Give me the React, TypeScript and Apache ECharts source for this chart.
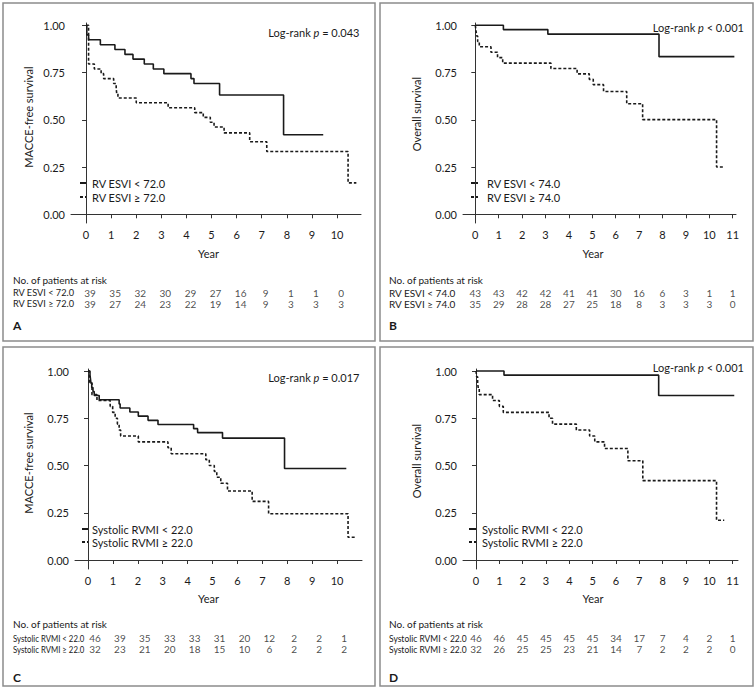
import React, { useEffect, useRef } from "react";
import * as echarts from "echarts";

// ---------- DATA ----------
// Panel A: MACCE-free survival by RV ESVI (72.0)
const timesA1 = [0, 0.03, 0.1, 0.57, 1.15, 1.55, 1.87, 2.32, 2.68, 3.1, 4.18, 4.3, 5.32, 7.87, 9.45];
const survA1 = [1, 0.949, 0.923, 0.897, 0.872, 0.846, 0.821, 0.795, 0.769, 0.744, 0.718, 0.692, 0.631, 0.421, 0.421];
const timesA2 = [0, 0.1, 0.33, 0.6, 0.7, 1.1, 1.2, 1.22, 1.27, 2.0, 3.27, 4.33, 4.67, 4.95, 5.1, 5.5, 6.52, 7.2, 10.44, 10.77];
const survA2 = [1, 0.795, 0.769, 0.744, 0.718, 0.692, 0.667, 0.641, 0.615, 0.59, 0.564, 0.538, 0.513, 0.487, 0.462, 0.431, 0.384, 0.332, 0.166, 0.166];

// Panel B: Overall survival by RV ESVI (74.0)
const timesB1 = [0, 1.2, 3.1, 7.85, 11.07];
const survB1 = [1, 0.977, 0.953, 0.834, 0.834];
const timesB2 = [0, 0.03, 0.06, 0.1, 0.17, 0.67, 0.95, 1.17, 3.23, 4.35, 4.87, 5.04, 5.48, 6.47, 7.15, 10.31, 10.64];
const survB2 = [1, 0.971, 0.943, 0.914, 0.886, 0.857, 0.829, 0.8, 0.771, 0.743, 0.714, 0.686, 0.65, 0.585, 0.501, 0.25, 0.25];

// Panel C: MACCE-free survival by Systolic RVMI (22.0)
const timesC1 = [0, 0.08, 0.1, 0.12, 0.15, 0.2, 0.25, 0.45, 1.25, 1.29, 1.68, 2.02, 2.41, 2.81, 4.24, 4.4, 5.4, 7.89, 10.37];
const survC1 = [1, 0.978, 0.957, 0.935, 0.913, 0.891, 0.87, 0.848, 0.826, 0.804, 0.783, 0.761, 0.739, 0.717, 0.695, 0.674, 0.645, 0.484, 0.484];
const timesC2 = [0, 0.05, 0.16, 0.36, 0.89, 0.99, 1.09, 1.18, 1.25, 1.31, 2.02, 3.21, 3.34, 4.73, 4.87, 5.07, 5.17, 5.33, 5.6, 6.59, 7.25, 10.44, 10.77];
const survC2 = [1, 0.938, 0.875, 0.844, 0.813, 0.781, 0.75, 0.719, 0.688, 0.656, 0.625, 0.594, 0.5625, 0.531, 0.5, 0.469, 0.438, 0.406, 0.365, 0.31, 0.245, 0.12, 0.12];

// Panel D: Overall survival by Systolic RVMI (22.0)
const timesD1 = [0, 1.2, 7.83, 11.07];
const survD1 = [1, 0.978, 0.87, 0.87];
const timesD2 = [0, 0.03, 0.07, 0.1, 0.14, 0.71, 1.0, 1.17, 3.13, 3.28, 4.3, 4.87, 5.09, 5.51, 6.51, 7.15, 10.31, 10.64];
const survD2 = [1, 0.969, 0.938, 0.906, 0.875, 0.844, 0.813, 0.781, 0.75, 0.719, 0.688, 0.656, 0.625, 0.59, 0.525, 0.42, 0.21, 0.21];

// Risk tables
const riskYearsAC = [0, 1, 2, 3, 4, 5, 6, 7, 8, 9, 10];
const riskYearsBD = [0, 1, 2, 3, 4, 5, 6, 7, 8, 9, 10, 11];
const riskA1 = [39, 35, 32, 30, 29, 27, 16, 9, 1, 1, 0];
const riskA2 = [39, 27, 24, 23, 22, 19, 14, 9, 3, 3, 3];
const riskB1 = [43, 43, 42, 42, 41, 41, 30, 16, 6, 3, 1, 1];
const riskB2 = [35, 29, 28, 28, 27, 25, 18, 8, 3, 3, 3, 0];
const riskC1 = [46, 39, 35, 33, 33, 31, 20, 12, 2, 2, 1];
const riskC2 = [32, 23, 21, 20, 18, 15, 10, 6, 2, 2, 2];
const riskD1 = [46, 46, 45, 45, 45, 45, 34, 17, 7, 4, 2, 1];
const riskD2 = [32, 26, 25, 25, 23, 21, 14, 7, 2, 2, 2, 0];

// Labels
const groupLabelsA = ["RV ESVI < 72.0", "RV ESVI \u2265 72.0"];
const groupLabelsB = ["RV ESVI < 74.0", "RV ESVI \u2265 74.0"];
const groupLabelsC = ["Systolic RVMI < 22.0", "Systolic RVMI \u2265 22.0"];
const groupLabelsD = ["Systolic RVMI < 22.0", "Systolic RVMI \u2265 22.0"];
const yTitles = ["MACCE-free survival", "Overall survival", "MACCE-free survival", "Overall survival"];
const pTexts = ["= 0.043", "< 0.001", "= 0.017", "< 0.001"];
const panelLetters = ["A", "B", "C", "D"];
const yTicks = [0, 0.25, 0.5, 0.75, 1];

// ---------- LAYOUT ----------
const FONT = "Lato";
const INK = "#1a1a1a";
const TABLE_FS = 10;

type Panel = {
  box: [number, number, number, number];
  grid: { left: number; top: number; width: number; height: number };
  xMin: number; xMax: number; yMin: number; yMax: number;
  xTicks: number[];
  s1: [number[], number[]]; s2: [number[], number[]];
  risk1: number[]; risk2: number[]; riskYears: number[];
  labels: string[]; yTitle: string; p: string; letter: string;
  pPos: [number, number]; yTitlePos: [number, number]; yearPos: [number, number];
  legend: { x1: number; x2: number; tx: number; y1: number; y2: number };
  tableX: number; headerY: number; riskTop: number; letterY: number;
  riskShift: number; labelScale: number;
};

const panels: Panel[] = [
  {
    box: [3, 3, 372, 338],
    grid: { left: 71, top: 23, width: 290, height: 200 },
    xMin: -0.6, xMax: 10.955, yMin: -0.046, yMax: 1.012,
    xTicks: riskYearsAC,
    s1: [timesA1, survA1], s2: [timesA2, survA2],
    risk1: riskA1, risk2: riskA2, riskYears: riskYearsAC,
    labels: groupLabelsA, yTitle: yTitles[0], p: pTexts[0], letter: panelLetters[0],
    pPos: [359.5, 32], yTitlePos: [28, 117], yearPos: [208.5, 253],
    legend: { x1: 80, x2: 87, tx: 92, y1: 183, y2: 197 },
    tableX: 13, headerY: 279.5, riskTop: 287, letterY: 325,
    riskShift: 4, labelScale: 0.92,
  },
  {
    box: [380, 3, 373, 338],
    grid: { left: 463, top: 23, width: 273, height: 200 },
    xMin: -0.526, xMax: 11.14, yMin: -0.046, yMax: 1.012,
    xTicks: riskYearsBD,
    s1: [timesB1, survB1], s2: [timesB2, survB2],
    risk1: riskB1, risk2: riskB2, riskYears: riskYearsBD,
    labels: groupLabelsB, yTitle: yTitles[1], p: pTexts[1], letter: panelLetters[1],
    pPos: [744, 27], yTitlePos: [416, 114], yearPos: [593, 253],
    legend: { x1: 471, x2: 478, tx: 487, y1: 183, y2: 197 },
    tableX: 389, headerY: 279.5, riskTop: 287, letterY: 325,
    riskShift: 0, labelScale: 1,
  },
  {
    box: [3, 347, 372, 339],
    grid: { left: 75, top: 369, width: 287, height: 200 },
    xMin: -0.522, xMax: 11.0, yMin: -0.0476, yMax: 1.0106,
    xTicks: riskYearsAC,
    s1: [timesC1, survC1], s2: [timesC2, survC2],
    risk1: riskC1, risk2: riskC2, riskYears: riskYearsAC,
    labels: groupLabelsC, yTitle: yTitles[2], p: pTexts[2], letter: panelLetters[2],
    pPos: [359.5, 377], yTitlePos: [28, 463], yearPos: [208.5, 598],
    legend: { x1: 82, x2: 89, tx: 92, y1: 529, y2: 542 },
    tableX: 13, headerY: 623.5, riskTop: 632.5, letterY: 677,
    riskShift: 7, labelScale: 0.78,
  },
  {
    box: [380, 347, 373, 339],
    grid: { left: 463, top: 369, width: 275, height: 200 },
    xMin: -0.557, xMax: 11.23, yMin: -0.0476, yMax: 1.0106,
    xTicks: riskYearsBD,
    s1: [timesD1, survD1], s2: [timesD2, survD2],
    risk1: riskD1, risk2: riskD2, riskYears: riskYearsBD,
    labels: groupLabelsD, yTitle: yTitles[3], p: pTexts[3], letter: panelLetters[3],
    pPos: [744, 367], yTitlePos: [416, 461], yearPos: [593, 598],
    legend: { x1: 469, x2: 476, tx: 482, y1: 529, y2: 542 },
    tableX: 389, headerY: 623.5, riskTop: 632.5, letterY: 677,
    riskShift: 0, labelScale: 0.85,
  },
];

const zip = (t: number[], s: number[]) => t.map((v, i) => [v, s[i]]);

function txt(x: number, y: number, text: string, opts: any = {}) {
  const align = opts.align || "left";
  return {
    type: "text",
    x, y,
    rotation: opts.rotation || 0,
    scaleX: opts.scaleX || 1,
    silent: true,
    style: {
      text,
      fill: opts.fill || INK,
      fontFamily: FONT,
      fontSize: opts.fontSize || 11,
      fontWeight: opts.fontWeight || "normal",
      align, textAlign: align,
      verticalAlign: "middle", textVerticalAlign: "middle",
      rich: opts.rich,
    },
  };
}

function buildOption() {
  const grids: any[] = [];
  const xAxes: any[] = [];
  const yAxes: any[] = [];
  const series: any[] = [];
  const graphics: any[] = [];

  panels.forEach((p) => {
    // plot grid
    const gi = grids.length;
    grids.push({ ...p.grid });
    xAxes.push({
      type: "value", gridIndex: gi, min: p.xMin, max: p.xMax,
      splitLine: { show: false },
      axisLine: { show: true, lineStyle: { color: "#333", width: 1 } },
      axisTick: { show: true, length: 4, customValues: p.xTicks, lineStyle: { color: "#333" } },
      axisLabel: { customValues: p.xTicks, color: INK, fontSize: 11, fontFamily: FONT, margin: 6 },
    });
    yAxes.push({
      type: "value", gridIndex: gi, min: p.yMin, max: p.yMax,
      splitLine: { show: false },
      axisLine: { show: true, lineStyle: { color: "#333", width: 1 } },
      axisTick: { show: true, length: 4, customValues: yTicks, lineStyle: { color: "#333" } },
      axisLabel: {
        customValues: yTicks, color: INK, fontSize: 11, fontFamily: FONT, margin: 6,
        formatter: (v: number) => v.toFixed(2),
      },
    });
    series.push({
      type: "line", name: p.labels[0], xAxisIndex: gi, yAxisIndex: gi,
      data: zip(p.s1[0], p.s1[1]), step: "end", showSymbol: false, silent: true,
      lineStyle: { color: INK, width: 1.6, type: "solid" },
    });
    series.push({
      type: "line", name: p.labels[1], xAxisIndex: gi, yAxisIndex: gi,
      data: zip(p.s2[0], p.s2[1]), step: "end", showSymbol: false, silent: true,
      lineStyle: { color: INK, width: 1.6, type: [3, 2] },
    });

    // risk table grid (same x scale as the plot)
    const ri = grids.length;
    grids.push({ left: p.grid.left + p.riskShift, width: p.grid.width, top: p.riskTop, height: 22 });
    xAxes.push({ type: "value", gridIndex: ri, min: p.xMin, max: p.xMax, show: false });
    yAxes.push({ type: "value", gridIndex: ri, min: 0, max: 2, inverse: true, show: false });
    [p.risk1, p.risk2].forEach((row, r) => {
      series.push({
        type: "scatter", xAxisIndex: ri, yAxisIndex: ri, silent: true,
        symbolSize: 1, itemStyle: { color: "rgba(0,0,0,0)" },
        data: row.map((n, k) => [p.riskYears[k], r + 0.5, n]),
        label: {
          show: true, position: "inside", color: INK, fontSize: TABLE_FS, fontFamily: FONT,
          formatter: (d: any) => String(d.value[2]),
        },
      });
    });

    // border
    graphics.push({
      type: "rect", silent: true,
      shape: { x: p.box[0], y: p.box[1], width: p.box[2], height: p.box[3] },
      style: { fill: "none", stroke: "#8c8c8c", lineWidth: 1.5 },
    });
    // log-rank
    graphics.push(txt(p.pPos[0], p.pPos[1], `{n|Log-rank }{i|p}{n| ${p.p}}`, {
      align: "right",
      rich: {
        n: { fontFamily: FONT, fontSize: 11, fill: INK, color: INK },
        i: { fontFamily: FONT, fontSize: 11, fontStyle: "italic", fill: INK, color: INK },
      },
    }));
    // axis titles
    graphics.push(txt(p.yTitlePos[0], p.yTitlePos[1], p.yTitle, { align: "center", rotation: Math.PI / 2 }));
    graphics.push(txt(p.yearPos[0], p.yearPos[1], "Year", { align: "center" }));
    // legend
    const L = p.legend;
    graphics.push({ type: "line", silent: true, shape: { x1: L.x1, y1: L.y1, x2: L.x2, y2: L.y1 }, style: { stroke: INK, lineWidth: 2 } });
    graphics.push({ type: "line", silent: true, shape: { x1: L.x1, y1: L.y2, x2: L.x2, y2: L.y2 }, style: { stroke: INK, lineWidth: 2, lineDash: [3, 2] } });
    graphics.push(txt(L.tx, L.y1, p.labels[0]));
    graphics.push(txt(L.tx, L.y2, p.labels[1]));
    // risk table text
    graphics.push(txt(p.tableX, p.headerY, "No. of patients at risk", { fontSize: TABLE_FS }));
    graphics.push(txt(p.tableX, p.riskTop + 5.5, p.labels[0], { fontSize: TABLE_FS, scaleX: p.labelScale }));
    graphics.push(txt(p.tableX, p.riskTop + 16.5, p.labels[1], { fontSize: TABLE_FS, scaleX: p.labelScale }));
    graphics.push(txt(p.tableX, p.letterY, p.letter, { fontWeight: "bold", fontSize: 12 }));
  });

  return {
    animation: false,
    backgroundColor: "#ffffff",
    textStyle: { fontFamily: FONT },
    grid: grids,
    xAxis: xAxes,
    yAxis: yAxes,
    series,
    graphic: { elements: graphics },
  };
}

export default function App() {
  const ref = useRef<HTMLDivElement>(null);
  useEffect(() => {
    if (!ref.current) return;
    const chart = echarts.init(ref.current, undefined, { renderer: "svg" });
    chart.setOption(buildOption() as any);
    return () => chart.dispose();
  }, []);
  return (
    <div
      ref={ref}
      style={{ position: "absolute", left: 0, top: 0, width: 756, height: 689, background: "#fff" }}
    />
  );
}
